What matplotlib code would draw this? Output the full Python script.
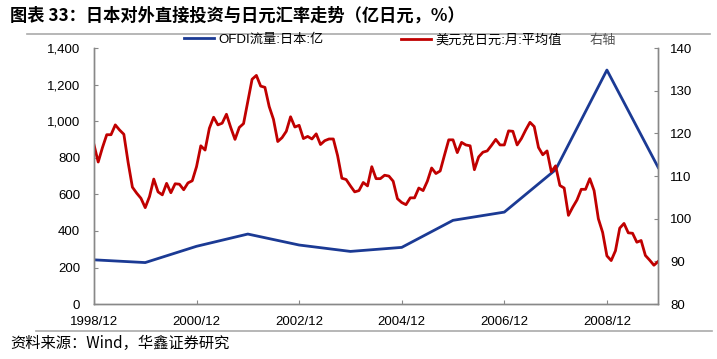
import numpy as np
import matplotlib
matplotlib.use("Agg")
import matplotlib.pyplot as plt
from matplotlib.ticker import FuncFormatter

plt.rcParams["font.family"] = ["Liberation Sans", "Noto Sans CJK SC", "DejaVu Sans"]

# === datos ===
tick_labels = ["1998/12", "2000/12", "2002/12", "2004/12", "2006/12", "2008/12"]

# OFDI 日本, 亿 (diciembre de cada año 1998-2009)
ofdi = [242, 227, 316, 383, 323, 288, 310, 458, 503, 735, 1280, 747]

# 美元兑日元 月平均 1998/12 - 2009/12
usdjpy = [117.4,
          113.3, 116.7, 119.7, 119.7, 122.0, 120.8, 119.8, 113.2, 107.4, 106.0, 104.8, 102.6,
          105.2, 109.3, 106.3, 105.6, 108.3, 106.1, 108.2, 108.1, 106.8, 108.4, 108.9, 112.2,
          117.1, 116.1, 121.2, 123.8, 122.0, 122.4, 124.5, 121.4, 118.6, 121.4, 122.3, 127.5,
          132.7, 133.6, 131.1, 130.8, 126.3, 123.3, 118.1, 119.0, 120.5, 123.9, 121.5, 121.9,
          118.8, 119.3, 118.7, 119.9, 117.4, 118.3, 118.7, 118.7, 114.8, 109.5, 109.2, 107.7,
          106.3, 106.6, 108.5, 107.7, 112.2, 109.4, 109.4, 110.2, 110.0, 108.8, 104.7, 103.8,
          103.3, 104.9, 104.9, 107.2, 106.6, 108.8, 111.9, 110.6, 111.2, 114.9, 118.5, 118.5,
          115.5, 117.9, 117.3, 117.1, 111.5, 114.5, 115.6, 115.9, 117.2, 118.6, 117.3, 117.3,
          120.6, 120.5, 117.3, 118.8, 120.8, 122.6, 121.6, 116.7, 115.0, 115.9, 111.0, 112.4,
          107.8, 107.2, 100.8, 102.7, 104.4, 106.9, 106.9, 109.4, 106.6, 100.0, 96.8, 91.3,
          90.2, 92.5, 97.8, 98.9, 96.7, 96.6, 94.5, 94.9, 91.4, 90.3, 89.1, 90.0]

x_month = np.arange(len(usdjpy))
x_year = np.arange(len(ofdi)) * 12

blue = "#1b3a94"
red = "#c00000"
gray = "#888888"

fig = plt.figure(figsize=(7.17, 3.59), dpi=100)
ax = fig.add_axes([0.131, 0.153, 0.787, 0.713])
ax2 = ax.twinx()

l1, = ax.plot(x_year, ofdi, color=blue, lw=2.0, label="OFDI流量:日本:亿")
l2, = ax2.plot(x_month, usdjpy, color=red, lw=2.0, label="美元兑日元:月:平均值")

ax.set_xlim(0, 132)
ax.set_ylim(0, 1400)
ax.set_yticks(np.arange(0, 1401, 200))
ax.yaxis.set_major_formatter(FuncFormatter(lambda v, p: f"{int(v):,}"))
ax2.set_ylim(80, 140)
ax2.set_yticks(np.arange(80, 141, 10))
ax.set_xticks(np.arange(0, 121, 24))
ax.set_xticklabels(tick_labels)

for a in (ax, ax2):
    a.spines["top"].set_visible(False)
    for s in ("left", "right", "bottom"):
        a.spines[s].set_color(gray)
        a.spines[s].set_linewidth(1.0)
    a.tick_params(direction="in", length=3, color=gray, labelsize=9.5, labelcolor="#000000")
ax.tick_params(axis="y", pad=10)
ax2.tick_params(axis="y", pad=8.5)
ax.tick_params(axis="x", pad=8.5)

# leyenda (dos piezas separadas)
for h, xpos in ((l1, 0.256), (l2, 0.559)):
    fig.legend(handles=[h], loc="center left", bbox_to_anchor=(xpos, 0.889),
               frameon=False, fontsize=9.5, handlelength=2.3, handletextpad=0.35,
               borderaxespad=0, borderpad=0)
fig.text(0.822, 0.886, "右轴", fontsize=9.5, color="#555555", va="center", family=["Noto Sans CJK SC"])

# título y fuente
fig.text(0.014, 0.958, "图表 33：日本对外直接投资与日元汇率走势（亿日元，%）", fontsize=12.4,
         fontweight="bold", va="center", family=["Noto Sans CJK SC", "DejaVu Sans"])
fig.add_artist(plt.Line2D([0.038, 0.99], [0.905, 0.905], color="#aaaaaa", lw=1.2, transform=fig.transFigure))
fig.add_artist(plt.Line2D([0.05, 0.993], [0.078, 0.078], color="#aaaaaa", lw=1.2, transform=fig.transFigure))
fig.text(0.014, 0.044, "资料来源：Wind，华鑫证券研究", fontsize=11, va="center",
         family=["Noto Sans CJK SC", "DejaVu Sans"])

fig.savefig("out.png", dpi=100)
